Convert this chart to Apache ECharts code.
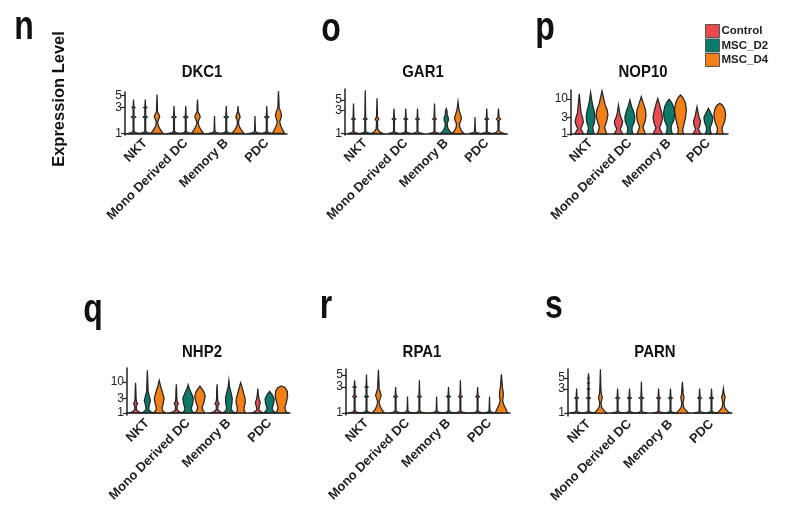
<!DOCTYPE html>
<html><head><meta charset="utf-8">
<script src="https://cdn.jsdelivr.net/npm/echarts@6/dist/echarts.min.js"></script>
<style>html,body{margin:0;padding:0;background:#fff}#c{width:795px;height:526px}</style>
</head><body><div id="c"></div>
<script>
// ---------- data ----------
const categories = ['NKT', 'Mono Derived DC', 'Memory B', 'PDC'];
const groups = ['Control', 'MSC_D2', 'MSC_D4'];
const groupColors = ['#E94B50', '#0B7A68', '#F57F17'];
const genes = ['DKC1', 'GAR1', 'NOP10', 'NHP2', 'RPA1', 'PARN'];
const panelLetters = ['n', 'o', 'p', 'q', 'r', 's'];

// y tick labels (log scale)
const ticksDKC1 = [1, 3, 5];
const ticksGAR1 = [1, 3, 5];
const ticksNOP10 = [1, 3, 10];
const ticksNHP2 = [1, 3, 10];
const ticksRPA1 = [1, 3, 5];
const ticksPARN = [1, 3, 5];

// violin profiles: per category, list of [expression value, relative half-width]
const DKC1_Control = [
  [[1,1],[1.04,0.3],[1.1,0.07],[1.9,0.07],[2,0.35],[2.1,0.07],[2.9,0.07],[3,0.25],[3.1,0.06],[4.2,0]],
  [[1,1],[1.04,0.3],[1.1,0.07],[1.9,0.07],[2,0.35],[2.1,0.07],[3.2,0]],
  [[1,1],[1.04,0.3],[1.1,0.07],[2.1,0]],
  [[1,1],[1.04,0.3],[1.1,0.07],[2.1,0]]
];
const DKC1_MSC_D2 = [
  [[1,1],[1.04,0.3],[1.1,0.07],[1.9,0.07],[2,0.35],[2.1,0.07],[2.9,0.07],[3,0.25],[3.1,0.06],[4.2,0]],
  [[1,1],[1.04,0.3],[1.1,0.07],[1.9,0.07],[2,0.35],[2.1,0.07],[3.2,0]],
  [[1,1],[1.04,0.3],[1.1,0.07],[1.9,0.07],[2,0.35],[2.1,0.07],[3.2,0]],
  [[1,1],[1.04,0.3],[1.1,0.07],[1.9,0.07],[2,0.35],[2.1,0.07],[3.2,0]]
];
const DKC1_MSC_D4 = [
  [[1,1],[1.15,0.6],[1.35,0.25],[1.6,0.1],[1.8,0.25],[2.0,0.45],[2.25,0.3],[2.5,0.08],[3,0.07],[5.2,0]],
  [[1,1],[1.15,0.6],[1.35,0.25],[1.6,0.1],[1.8,0.25],[2.0,0.45],[2.25,0.3],[2.5,0.08],[3,0.07],[4.2,0]],
  [[1,1],[1.15,0.55],[1.35,0.2],[1.6,0.08],[1.85,0.2],[2.0,0.35],[2.2,0.25],[2.5,0.07],[3.2,0]],
  [[1,1],[1.15,0.7],[1.4,0.35],[1.65,0.2],[1.9,0.4],[2.2,0.5],[2.6,0.3],[3,0.1],[4,0.07],[6.0,0]]
];

const GAR1_Control = [
  [[1,1],[1.04,0.3],[1.1,0.07],[1.9,0.07],[2,0.3],[2.1,0.07],[4.2,0]],
  [[1,1],[1.04,0.3],[1.1,0.07],[1.9,0.07],[2,0.3],[2.1,0.07],[3.3,0]],
  [[1,1],[1.04,0.3],[1.1,0.07],[1.9,0.07],[2,0.3],[2.1,0.07],[4.2,0]],
  [[1,1],[1.04,0.3],[1.1,0.07],[2.2,0]]
];
const GAR1_MSC_D2 = [
  [[1,1],[1.04,0.3],[1.1,0.07],[1.9,0.07],[2,0.3],[2.1,0.07],[8.0,0]],
  [[1,1],[1.04,0.3],[1.1,0.07],[1.9,0.07],[2,0.3],[2.1,0.07],[3.3,0]],
  [[1,1],[1.1,0.6],[1.3,0.25],[1.6,0.15],[1.9,0.35],[2.1,0.35],[2.5,0.15],[3.0,0.12],[3.3,0]],
  [[1,1],[1.04,0.3],[1.1,0.07],[1.9,0.07],[2,0.3],[2.1,0.07],[3.3,0]]
];
const GAR1_MSC_D4 = [
  [[1,1],[1.08,0.45],[1.25,0.12],[1.8,0.08],[2,0.3],[2.2,0.08],[5.4,0]],
  [[1,1],[1.04,0.3],[1.1,0.07],[1.9,0.07],[2,0.3],[2.1,0.07],[3.3,0]],
  [[1,1],[1.1,0.65],[1.35,0.3],[1.6,0.25],[1.9,0.5],[2.2,0.55],[2.6,0.35],[3,0.2],[3.6,0.1],[4.6,0]],
  [[1,1],[1.06,0.35],[1.15,0.08],[1.85,0.1],[2,0.35],[2.15,0.1],[3.3,0]]
];

const NOP10_Control = [
  [[1,0.75],[1.2,0.5],[1.4,0.25],[1.7,0.45],[2.2,0.7],[3,0.55],[4,0.3],[6,0.2],[9,0.1],[14,0]],
  [[1,0.75],[1.2,0.45],[1.4,0.3],[1.8,0.6],[2.3,0.7],[3,0.4],[4,0.2],[6.7,0]],
  [[1,0.8],[1.25,0.5],[1.5,0.3],[2,0.6],[3,0.8],[4.5,0.6],[7,0.3],[10.4,0]],
  [[1,0.7],[1.2,0.4],[1.4,0.25],[1.8,0.5],[2.3,0.6],[3,0.35],[4,0.2],[6,0]]
];
const NOP10_MSC_D2 = [
  [[1,0.6],[1.25,0.45],[1.5,0.35],[2,0.6],[3,0.75],[4.5,0.6],[6,0.4],[9,0.2],[15.5,0]],
  [[1,0.5],[1.3,0.35],[1.6,0.4],[2.2,0.75],[3,0.85],[4.5,0.6],[6,0.3],[9.4,0]],
  [[1,0.55],[1.3,0.35],[1.7,0.35],[2.5,0.8],[4,0.95],[6,0.75],[8,0.4],[9.8,0]],
  [[1,0.5],[1.3,0.3],[1.6,0.35],[2.2,0.65],[3,0.75],[4,0.4],[5.4,0]]
];
const NOP10_MSC_D4 = [
  [[1,0.8],[1.3,0.55],[1.6,0.45],[2.2,0.75],[3.5,1.0],[5,0.85],[7,0.5],[10,0.3],[17,0]],
  [[1,0.7],[1.3,0.45],[1.6,0.3],[2.3,0.65],[3.5,0.8],[5,0.7],[7,0.4],[11.6,0]],
  [[1,0.5],[1.3,0.35],[1.8,0.55],[3,0.85],[5,1.0],[8,0.8],[11,0.4],[13,0]],
  [[1,0.6],[1.25,0.4],[1.5,0.4],[2.2,0.8],[3.5,1.0],[5,0.85],[6.5,0.5],[7.5,0]]
];

const NHP2_Control = [
  [[1,1],[1.1,0.45],[1.3,0.12],[1.8,0.15],[2,0.35],[2.3,0.15],[3,0.08],[5,0.06],[9.5,0]],
  [[1,1],[1.1,0.45],[1.3,0.12],[1.8,0.15],[2,0.35],[2.3,0.15],[3,0.08],[5,0.06],[8.4,0]],
  [[1,1],[1.1,0.45],[1.3,0.12],[1.8,0.15],[2,0.35],[2.3,0.15],[3,0.08],[5,0.06],[8.4,0]],
  [[1,1],[1.1,0.45],[1.3,0.15],[1.8,0.3],[2.2,0.4],[2.8,0.2],[4,0.08],[6.1,0]]
];
const NHP2_MSC_D2 = [
  [[1,1],[1.1,0.55],[1.3,0.2],[1.8,0.3],[2.5,0.5],[3.3,0.35],[5,0.12],[10,0.07],[24,0]],
  [[1,1],[1.15,0.65],[1.4,0.5],[2,0.75],[3,0.85],[4.5,0.5],[6,0.2],[8.2,0]],
  [[1,1],[1.15,0.55],[1.4,0.35],[2,0.5],[3,0.55],[4.5,0.35],[7,0.12],[11.3,0]],
  [[1,1],[1.15,0.6],[1.4,0.4],[2,0.65],[2.8,0.75],[3.8,0.45],[5,0]]
];
const NHP2_MSC_D4 = [
  [[1,1],[1.15,0.6],[1.4,0.45],[2,0.65],[3,0.8],[4.5,0.55],[7,0.25],[11.3,0]],
  [[1,0.8],[1.2,0.5],[1.5,0.35],[2.2,0.65],[3.5,0.85],[5,0.6],[7.4,0]],
  [[1,0.8],[1.2,0.55],[1.5,0.55],[2.2,0.75],[3,0.7],[4.5,0.45],[7,0.2],[9.5,0]],
  [[1,1],[1.15,0.7],[1.5,0.55],[2.2,0.8],[3.5,1.0],[5,0.95],[6.5,0.6],[7.4,0]]
];

const RPA1_Control = [
  [[1,1],[1.04,0.3],[1.1,0.07],[1.9,0.07],[2,0.3],[2.1,0.07],[2.9,0.07],[3,0.25],[3.1,0.06],[4.0,0]],
  [[1,1],[1.04,0.3],[1.1,0.07],[1.9,0.07],[2,0.3],[2.1,0.07],[3.0,0]],
  [[1,1],[1.04,0.3],[1.1,0.07],[2.0,0]],
  [[1,1],[1.04,0.3],[1.1,0.07],[1.9,0.07],[2,0.3],[2.1,0.07],[3.0,0]]
];
const RPA1_MSC_D2 = [
  [[1,1],[1.04,0.3],[1.1,0.07],[1.9,0.07],[2,0.3],[2.1,0.07],[2.9,0.07],[3,0.25],[3.1,0.06],[5.1,0]],
  [[1,1],[1.04,0.3],[1.1,0.07],[2.0,0]],
  [[1,1],[1.04,0.3],[1.1,0.07],[1.9,0.07],[2,0.3],[2.1,0.07],[3.0,0]],
  [[1,1],[1.04,0.3],[1.1,0.07],[2.0,0]]
];
const RPA1_MSC_D4 = [
  [[1,1],[1.15,0.55],[1.35,0.25],[1.6,0.12],[1.85,0.3],[2.1,0.45],[2.4,0.3],[2.8,0.12],[3.5,0.1],[6.2,0]],
  [[1,1],[1.04,0.3],[1.1,0.07],[1.9,0.07],[2,0.3],[2.1,0.07],[4.0,0]],
  [[1,1],[1.04,0.3],[1.1,0.07],[1.9,0.07],[2,0.3],[2.1,0.07],[4.0,0]],
  [[1,1],[1.2,0.7],[1.4,0.4],[1.7,0.2],[2,0.3],[2.4,0.3],[3,0.15],[3.8,0.1],[5.1,0]]
];

const PARN_Control = [
  [[1,1],[1.04,0.3],[1.1,0.07],[1.9,0.07],[2,0.3],[2.1,0.07],[3.1,0]],
  [[1,1],[1.04,0.3],[1.1,0.07],[1.9,0.07],[2,0.3],[2.1,0.07],[3.1,0]],
  [[1,1],[1.04,0.3],[1.1,0.07],[1.9,0.07],[2,0.3],[2.1,0.07],[3.1,0]],
  [[1,1],[1.04,0.3],[1.1,0.07],[1.9,0.07],[2,0.3],[2.1,0.07],[3.1,0]]
];
const PARN_MSC_D2 = [
  [[1,1],[1.04,0.3],[1.1,0.07],[1.9,0.07],[2,0.3],[2.1,0.07],[2.9,0.07],[3,0.2],[3.1,0.06],[3.9,0.06],[4,0.15],[4.1,0.06],[4.9,0.06],[5,0.12],[5.1,0.05],[6.2,0]],
  [[1,1],[1.04,0.3],[1.1,0.07],[1.9,0.07],[2,0.3],[2.1,0.07],[3.1,0]],
  [[1,1],[1.04,0.3],[1.1,0.07],[1.9,0.07],[2,0.3],[2.1,0.07],[3.1,0]],
  [[1,1],[1.04,0.3],[1.1,0.07],[1.9,0.07],[2,0.3],[2.1,0.07],[3.1,0]]
];
const PARN_MSC_D4 = [
  [[1,1],[1.15,0.5],[1.3,0.2],[1.6,0.1],[1.9,0.25],[2.1,0.3],[2.4,0.15],[3,0.09],[7.5,0]],
  [[1,1],[1.04,0.3],[1.1,0.07],[1.9,0.07],[2,0.35],[2.1,0.07],[4.2,0]],
  [[1,1],[1.15,0.5],[1.3,0.2],[1.6,0.1],[1.9,0.22],[2.1,0.25],[2.4,0.12],[3,0.09],[4.2,0]],
  [[1,1],[1.15,0.5],[1.3,0.2],[1.6,0.1],[1.9,0.22],[2.1,0.28],[2.4,0.12],[3.1,0]]
];

// ---------- layout ----------
const profilesByGene = [
  [DKC1_Control, DKC1_MSC_D2, DKC1_MSC_D4],
  [GAR1_Control, GAR1_MSC_D2, GAR1_MSC_D4],
  [NOP10_Control, NOP10_MSC_D2, NOP10_MSC_D4],
  [NHP2_Control, NHP2_MSC_D2, NHP2_MSC_D4],
  [RPA1_Control, RPA1_MSC_D2, RPA1_MSC_D4],
  [PARN_Control, PARN_MSC_D2, PARN_MSC_D4]
];
const ticksByGene = [ticksDKC1, ticksGAR1, ticksNOP10, ticksNHP2, ticksRPA1, ticksPARN];
const grids = [
  {left:125, top:92, width:162, height:43},
  {left:345, top:89, width:162, height:46},
  {left:571, top:90, width:157, height:45},
  {left:127, top:368, width:163, height:47},
  {left:346, top:369, width:164, height:46},
  {left:568, top:369, width:164, height:47}
];
const yRanges = [[-0.028,0.761],[-0.031,0.927],[-0.029,1.257],[-0.065,1.451],[-0.037,0.807],[-0.06,0.88]];
const titlePos = [[202,72],[423,72],[643,72],[202,352],[422,352],[655,352]];
const letterPos = [[24,28],[331,30],[545,29],[93,311],[326,307],[554,307]];

const FONT = '"Liberation Sans", Arial, sans-serif';

function makeRenderer(profiles, g) {
  return function (params, api) {
    const ci = api.value(0);
    const prof = profiles[ci];
    const band = api.size([1, 0])[0];
    const dodge = band * 0.29;
    const half = dodge * 0.52;
    const cx = api.coord([ci, 0])[0] + (g - 1) * dodge;
    const right = [], left = [];
    prof.forEach(function (p) {
      const y = api.coord([ci, Math.log10(p[0])])[1];
      right.push([cx + p[1] * half, y]);
      left.unshift([cx - p[1] * half, y]);
    });
    return {
      type: 'polygon',
      shape: { points: right.concat(left) },
      style: { fill: groupColors[g], stroke: '#262626', lineWidth: 1.25 }
    };
  };
}

function yAxisFor(i, values, showLine) {
  const tv = values.map(function (t) { return Math.log10(t); });
  return {
    type: 'value', gridIndex: i, position: 'left', offset: 0,
    min: yRanges[i][0], max: yRanges[i][1],
    splitLine: { show: false },
    axisLine: { show: showLine, lineStyle: { color: '#222', width: 1.5 } },
    axisTick: { show: true, length: 4, customValues: tv, lineStyle: { color: '#222', width: 1.2 } },
    axisLabel: { customValues: tv, hideOverlap: false, fontSize: 12, color: '#222', margin: 3, fontFamily: FONT,
      formatter: function (v) { return String(Math.round(Math.pow(10, v))); } }
  };
}

const xAxes = [], yAxes = [], yAxesExtra = [], series = [], graphics = [];
genes.forEach(function (gene, i) {
  xAxes.push({
    type: 'category', gridIndex: i, data: categories,
    axisLine: { lineStyle: { color: '#222', width: 1.5 } },
    axisTick: { alignWithLabel: true, length: 4, lineStyle: { color: '#222', width: 1.2 } },
    axisLabel: { rotate: 45, interval: 0, fontSize: 13, fontWeight: 'bold', color: '#222', margin: 6, fontFamily: FONT }
  });
  const ticks = ticksByGene[i];
  // lower two tick labels on the main axis, top label on an overlaid axis so it is never hidden
  yAxes.push(yAxisFor(i, ticks.slice(0, 2), true));
  yAxesExtra.push(yAxisFor(i, ticks.slice(2), false));
  groups.forEach(function (gname, g) {
    series.push({
      type: 'custom', name: gname, xAxisIndex: i, yAxisIndex: i,
      data: categories.map(function (c, ci) { return [ci, 0]; }),
      encode: { x: 0, y: 1 },
      itemStyle: { color: groupColors[g], borderColor: '#555', borderWidth: 1 },
      renderItem: makeRenderer(profilesByGene[i][g], g),
      clip: false, silent: true
    });
  });
  graphics.push({
    type: 'text', x: titlePos[i][0], y: titlePos[i][1], scaleX: 0.88,
    style: { text: gene, font: 'bold 17px ' + FONT, fill: '#111', textAlign: 'center', textVerticalAlign: 'middle' }
  });
  graphics.push({
    type: 'text', x: letterPos[i][0], y: letterPos[i][1], scaleX: 0.8,
    style: { text: panelLetters[i], font: 'bold 40px ' + FONT, fill: '#111', textAlign: 'center', textVerticalAlign: 'middle' }
  });
});
graphics.push({
  type: 'text', x: 59, y: 99, rotation: Math.PI / 2,
  style: { text: 'Expression Level', font: 'bold 16.5px ' + FONT, fill: '#111', textAlign: 'center', textVerticalAlign: 'middle' }
});

const chart = echarts.init(document.getElementById('c'));
chart.setOption({
  animation: false,
  backgroundColor: '#fff',
  grid: grids,
  xAxis: xAxes,
  yAxis: yAxes.concat(yAxesExtra),
  series: series,
  graphic: graphics,
  legend: {
    data: groups, orient: 'vertical', left: 705, top: 24, padding: 0,
    itemWidth: 14, itemHeight: 13, itemGap: 0.5, icon: 'rect',
    textStyle: { fontSize: 11.5, fontWeight: 'bold', color: '#222', fontFamily: FONT, padding: [0,0,0,-3] },
    itemStyle: { borderColor: '#555', borderWidth: 1 }
  }
});
</script></body></html>
